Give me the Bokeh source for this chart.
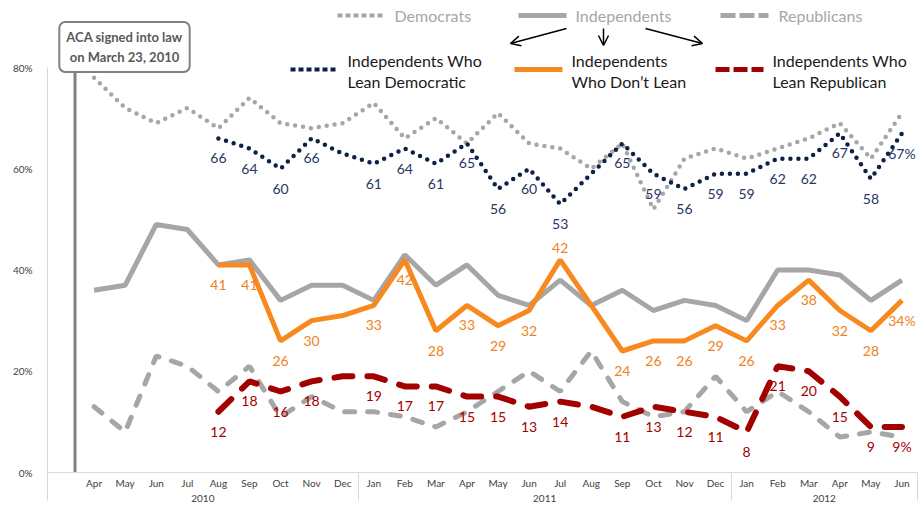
from bokeh.plotting import figure
from bokeh.models import (Range1d, LinearAxis, FixedTicker, CustomJSTickFormatter,
                          PrintfTickFormatter, ColumnDataSource, LabelSet, Label,
                          Arrow, OpenHead)
from bokeh.embed import file_html
from bokeh.resources import INLINE
from bokeh.core.properties import value

# ---------------- data ----------------
months = ["Apr", "May", "Jun", "Jul", "Aug", "Sep", "Oct", "Nov", "Dec",
          "Jan", "Feb", "Mar", "Apr", "May", "Jun", "Jul", "Aug", "Sep", "Oct", "Nov", "Dec",
          "Jan", "Feb", "Mar", "Apr", "May", "Jun"]
years = ["2010"] * 9 + ["2011"] * 12 + ["2012"] * 6

democrats = [78, 72, 69, 72, 68, 74, 69, 68, 69, 73, 66, 70, 65, 71, 65, 64, 60, 65, 52,
             62, 64, 62, 64, 66, 69, 62, 71]
independents = [36, 37, 49, 48, 41, 42, 34, 37, 37, 34, 43, 37, 41, 35, 33, 38, 33, 36, 32,
                34, 33, 30, 40, 40, 39, 34, 38]
republicans = [13, 8, 23, 21, 16, 21, 11, 15, 12, 12, 11, 9, 12, 16, 20, 16, 24, 14, 11,
               12, 19, 12, 16, 12, 7, 8, 7]

# sub-groups of independents start in Aug 2010
sub_start = 4
lean_dem = [66, 64, 60, 66, 63, 61, 64, 61, 65, 56, 60, 53, 59, 65, 59, 56, 59, 59, 62, 62, 67, 58, 67]
dont_lean = [41, 41, 26, 30, 31, 33, 42, 28, 33, 29, 32, 42, 33, 24, 26, 26, 29, 26, 33, 38, 32, 28, 34]
lean_rep = [12, 18, 16, 18, 19, 19, 17, 17, 15, 15, 13, 14, 13, 11, 13, 12, 11, 8, 21, 20, 15, 9, 9]

unlabeled = [("Dec", "2010"), ("Aug", "2011")]
labels_above = {"dont_lean": [("Jul", "2011")]}

# ---------------- geometry ----------------
FONT = "Lato"
OFF = 0
FRAME_W, FRAME_H = 870, 472
BORDER_L, BORDER_R, BORDER_B = 47, 3, 38
PX_PER_UNIT = 405 / 80.0
Y_MAX = FRAME_H / PX_PER_UNIT
N_SLOTS = len(months) + 1          # one empty slot (Mar 2010) before Apr 2010

def dx(page_x):
    return (page_x - OFF - BORDER_L) / FRAME_W * N_SLOTS

def dy(page_y):
    return (FRAME_H - (page_y - OFF)) / PX_PER_UNIT

slot_years = [years[0]] + years
slot_labels = [""] + months
x_all = [i + 1.5 for i in range(len(months))]
x_sub = x_all[sub_start:]

p = figure(frame_width=FRAME_W, frame_height=FRAME_H,
           x_range=Range1d(0, N_SLOTS), y_range=Range1d(0, Y_MAX),
           x_axis_type=None, y_axis_type=None,
           toolbar_location=None, output_backend="svg",
           min_border_left=BORDER_L, min_border_right=BORDER_R,
           min_border_top=0, min_border_bottom=BORDER_B)
p.outline_line_color = None
p.xgrid.visible = False
p.ygrid.visible = False
p.background_fill_color = "white"

AX_COLOR = "#D9D9D9"
LBL_COLOR = "#404040"
AX_FONT_SIZE = "10px"

yax = LinearAxis(ticker=FixedTicker(ticks=[0, 20, 40, 60, 80]),
                 formatter=PrintfTickFormatter(format="%d%%"),
                 bounds=(0, 80), axis_line_color=AX_COLOR,
                 major_tick_line_color=None, minor_tick_line_color=None,
                 major_label_text_font=FONT, major_label_text_font_size=AX_FONT_SIZE,
                 major_label_text_color=LBL_COLOR, major_label_standoff=9)
p.add_layout(yax, "left")

# group boundaries between years
bounds_ = [0]
for i in range(1, len(slot_years)):
    if slot_years[i] != slot_years[i - 1]:
        bounds_.append(i)
bounds_.append(len(slot_years))
year_names = [slot_years[b] for b in bounds_[:-1]]
year_centers = [(bounds_[k] + bounds_[k + 1]) / 2 for k in range(len(year_names))]

SEP_LEN = 28
mfmt = CustomJSTickFormatter(args=dict(labels=slot_labels),
                             code="const v = labels[Math.floor(tick)]; return v ? v : '';")
xax = LinearAxis(ticker=FixedTicker(ticks=[i + 0.5 for i in range(N_SLOTS)], minor_ticks=bounds_),
                 formatter=mfmt, axis_line_color=AX_COLOR,
                 major_tick_line_color=None, major_tick_in=0, major_tick_out=0,
                 minor_tick_line_color=AX_COLOR, minor_tick_in=0, minor_tick_out=SEP_LEN,
                 major_label_text_font=FONT, major_label_text_font_size=AX_FONT_SIZE,
                 major_label_text_color=LBL_COLOR, major_label_standoff=4 - SEP_LEN)
p.add_layout(xax, "below")

yfmt = CustomJSTickFormatter(args=dict(c=year_centers, n=year_names),
                             code="const i = c.indexOf(tick); return i >= 0 ? n[i] : '';")
yrax = LinearAxis(ticker=FixedTicker(ticks=year_centers, minor_ticks=[]),
                  formatter=yfmt, axis_line_color=None,
                  major_tick_line_color=None, minor_tick_line_color=None,
                  major_label_text_font=FONT, major_label_text_font_size=AX_FONT_SIZE,
                  major_label_text_color=LBL_COLOR, major_label_standoff=-3)
p.add_layout(yrax, "below")

# ---------------- ACA marker ----------------
aca_x = dx(74.5)
p.segment(x0=[aca_x], y0=[0], x1=[aca_x], y1=[dy(70)], line_color="#808080", line_width=3)
p.add_layout(Label(x=dx(124), y=dy(46.5), text="ACA signed into law\non March 23, 2010",
                   text_align="center", text_baseline="middle", text_font=FONT,
                   text_font_style="bold", text_font_size="13px", text_color="#595959",
                   text_line_height=1.25,
                   background_fill_color="white", border_line_color="#808080",
                   border_line_width=2, border_radius=6, padding=7))

# ---------------- lines ----------------
GRAY = "#A6A6A6"
NAVY = "#0D2147"
ORANGE = "#F7891F"
RED = "#A30000"

p.line(x_all, democrats, line_color=GRAY, line_width=4.5, line_dash="0 8", line_cap="round")
p.line(x_all, independents, line_color=GRAY, line_width=5)
p.line(x_all, republicans, line_color=GRAY, line_width=5, line_dash="10 13", line_cap="round")
p.line(x_sub, lean_dem, line_color=NAVY, line_width=4.5, line_dash="0 8", line_cap="round")
p.line(x_sub, dont_lean, line_color=ORANGE, line_width=5)
p.line(x_sub, lean_rep, line_color=RED, line_width=6, line_dash="18 15", line_cap="round")

# ---------------- data labels ----------------
sub_keys = list(zip(months[sub_start:], years[sub_start:]))

def add_labels(name, vals, color):
    texts, yo = [], []
    above = labels_above.get(name, [])
    for k, v in enumerate(vals):
        key = sub_keys[k]
        if key in unlabeled:
            texts.append("")
        else:
            texts.append(f"{v}%" if k == len(vals) - 1 else str(v))
        yo.append(12 if key in above else -20)
    src = ColumnDataSource(dict(x=x_sub, y=vals, t=texts, yo=yo))
    p.add_layout(LabelSet(x="x", y="y", text="t", source=src, y_offset="yo",
                          text_align="center", text_baseline="middle",
                          text_font=value(FONT), text_font_size="14px", text_color=color))

add_labels("lean_dem", lean_dem, "#1F3864")
add_labels("dont_lean", dont_lean, "#F08220")
add_labels("lean_rep", lean_rep, "#A50000")

# ---------------- legend ----------------
def swatch(x0, x1, py, color, width, dash="solid"):
    p.line([dx(x0), dx(x1)], [dy(py), dy(py)], line_color=color, line_width=width,
           line_dash=dash, line_cap="butt")

def txt(px, py, s, color, size="16px"):
    p.text(x=[dx(px)], y=[dy(py)], text=[s], text_font=value(FONT), text_font_size=size,
           text_color=color, text_baseline="middle", text_align="left")

LEG_GRAY = "#A6A6A6"
swatch(337, 384, 15, GRAY, 4, "5 3")
txt(394, 15, "Democrats", LEG_GRAY)
swatch(518, 566, 15, GRAY, 5)
txt(575, 15, "Independents", LEG_GRAY)
swatch(720, 768, 15, GRAY, 5, "15 4")
txt(778, 15, "Republicans", LEG_GRAY)

DARK = "#1A1A1A"
swatch(290, 338, 69, NAVY, 4, "5 3")
txt(347, 60, "Independents Who", DARK)
txt(347, 81, "Lean Democratic", DARK)
swatch(514, 562, 69, ORANGE, 5)
txt(571, 60, "Independents", DARK)
txt(571, 81, "Who Don\u2019t Lean", DARK)
swatch(715, 763, 69, RED, 5, "14 4")
txt(772, 60, "Independents Who", DARK)
txt(772, 81, "Lean Republican", DARK)

for (xs, ys, xe, ye) in [(566, 28, 510, 43), (603, 28, 603, 45), (645, 28, 702, 43)]:
    p.add_layout(Arrow(end=OpenHead(size=10, line_width=1.5, line_color="black"),
                       x_start=dx(xs), y_start=dy(ys), x_end=dx(xe), y_end=dy(ye),
                       line_width=1.5, line_color="black"))

open("out.html", "w").write(file_html(p, INLINE))
